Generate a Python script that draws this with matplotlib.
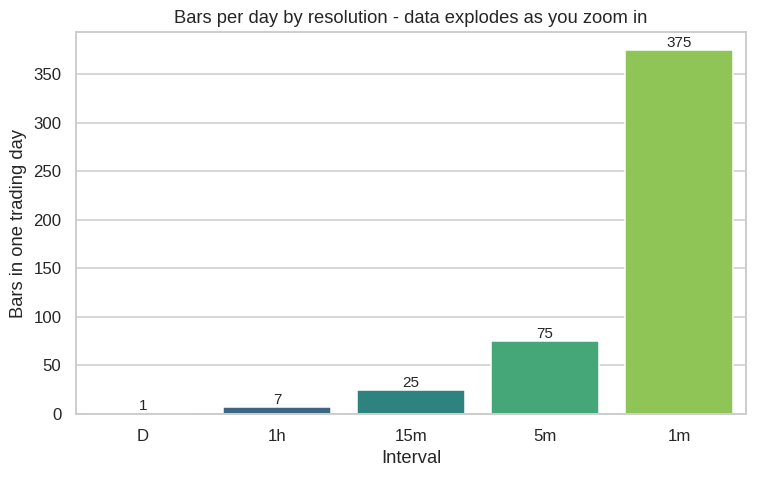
import matplotlib
matplotlib.use("Agg")
import matplotlib.pyplot as plt
import seaborn as sns

intervals = ["D", "1h", "15m", "5m", "1m"]
bars_per_day = [1, 7, 25, 75, 375]

sns.set_theme(style="whitegrid")
plt.rcParams["font.family"] = ["Liberation Sans", "DejaVu Sans"]
dpi = 110
fig, ax = plt.subplots(figsize=(770 / dpi, 479 / dpi), dpi=dpi)
palette = sns.color_palette("viridis", len(intervals))
sns.barplot(x=intervals, y=bars_per_day, hue=intervals, palette=palette, legend=False, ax=ax)
for c in ax.containers:
    ax.bar_label(c, fmt="%d", fontsize=10, padding=0)
ax.set_title("Bars per day by resolution - data explodes as you zoom in")
ax.set_xlabel("Interval")
ax.set_ylabel("Bars in one trading day")
fig.subplots_adjust(left=76 / 770, right=746 / 770, top=1 - 32 / 479, bottom=1 - 414 / 479)
fig.savefig("out.png", dpi=dpi)
